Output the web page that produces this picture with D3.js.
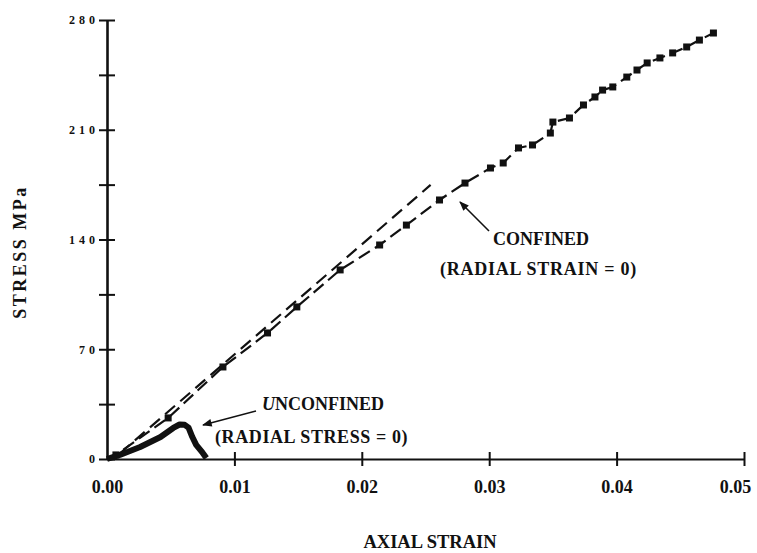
<!DOCTYPE html>
<html>
<head>
<meta charset="utf-8">
<script src="https://cdn.jsdelivr.net/npm/d3@7"></script>
<style>
  body { margin: 0; background: #fff; }
  text { font-family: "Liberation Serif", "DejaVu Serif", serif; font-weight: bold; fill: #111; }
</style>
</head>
<body>
<script>
// confined test: strain / stress pairs
const confinedStrain = [0.0000, 0.0007, 0.0048, 0.0091, 0.0126, 0.0149, 0.0183, 0.0214, 0.0235, 0.0261,
  0.0281, 0.0301, 0.0311, 0.0323, 0.0334, 0.0348, 0.0350, 0.0363, 0.0374, 0.0383,
  0.0389, 0.0397, 0.0408, 0.0416, 0.0424, 0.0434, 0.0444, 0.0455, 0.0465, 0.0476];
const confinedStress = [0, 2.6, 26.2, 58.7, 80.4, 97.0, 120.6, 136.5, 149.2, 165.2,
  176.0, 185.6, 188.8, 198.4, 200.3, 207.9, 214.9, 217.5, 225.8, 230.9,
  235.3, 237.3, 243.6, 248.1, 252.6, 255.8, 259.0, 262.8, 267.2, 271.7];

// unconfined test
const unconfStrain = [0.0000, 0.0010, 0.0026, 0.0042, 0.0052, 0.0057, 0.0061, 0.0064, 0.0067, 0.0070, 0.0075, 0.0078];
const unconfStress = [0, 2.6, 7.7, 14.0, 19.8, 22.0, 21.8, 20.0, 14.0, 9.0, 4.0, 0.6];

// upper dashed reference line
const refStrain = [0.0010, 0.0254];
const refStress = [3.5, 174.8];

const yTicks = [0, 35, 70, 105, 140, 175, 210, 245, 280];
const yLabels = [0, 70, 140, 210, 280];
const xTicks = [0, 0.01, 0.02, 0.03, 0.04, 0.05];

const W = 757, H = 553;
const svg = d3.select("body").append("svg").attr("width", W).attr("height", H);

const x = d3.scaleLinear().domain([0, 0.05]).range([107, 744]);
const y = d3.scaleLinear().domain([0, 280]).range([459, 20]);

// y axis
const yAxis = svg.append("g").attr("transform", "translate(107,0)")
  .call(d3.axisLeft(y).tickValues(yTicks).tickSize(0).tickSizeOuter(0).tickPadding(8)
    .tickFormat(d => yLabels.includes(d) ? d : ""));
yAxis.select(".domain").attr("stroke", "#111").attr("stroke-width", 2.6);
yAxis.selectAll(".tick line").attr("x1", -8).attr("x2", 8).attr("stroke", "#111").attr("stroke-width", 2);
yAxis.selectAll(".tick text").style("font-size", "12px").style("letter-spacing", "4px")
  .style("font-family", "Liberation Serif, serif").style("font-weight", "bold").attr("fill", "#111");

// x axis
const xAxis = svg.append("g").attr("transform", "translate(0,459)")
  .call(d3.axisBottom(x).tickValues(xTicks).tickSize(0).tickSizeOuter(0).tickPadding(21)
    .tickFormat(d3.format(".2f")));
xAxis.select(".domain").attr("stroke", "#111").attr("stroke-width", 2.2);
xAxis.selectAll(".tick line").attr("y1", d => d === 0 ? 0 : -7).attr("y2", d => d === 0 ? 0 : 7)
  .attr("stroke", "#111").attr("stroke-width", 2);
xAxis.selectAll(".tick text").style("font-size", "18px")
  .style("font-family", "Liberation Serif, serif").style("font-weight", "bold").attr("fill", "#111")
  .attr("dx", d => d === 0.05 ? -9 : 0);

// axis titles
svg.append("text").attr("x", 430).attr("y", 548).attr("text-anchor", "middle")
  .style("font-size", "18.5px").text("AXIAL STRAIN");
svg.append("text").attr("transform", "translate(26,252) rotate(-90)").attr("text-anchor", "middle")
  .style("font-size", "18px").style("letter-spacing", "2.5px").text("STRESS  MPa");

const line = d3.line().x(d => x(d[0])).y(d => y(d[1]));

// upper dashed line
svg.append("path").datum(d3.zip(refStrain, refStress)).attr("d", line)
  .attr("fill", "none").attr("stroke", "#111").attr("stroke-width", 2.2).attr("stroke-dasharray", "13,7");

// confined data: dashed line + square markers
const conf = d3.zip(confinedStrain, confinedStress);
svg.append("path").datum(conf).attr("d", line)
  .attr("fill", "none").attr("stroke", "#111").attr("stroke-width", 2.2).attr("stroke-dasharray", "13,6");
svg.selectAll("rect.pt").data(conf.slice(1)).enter().append("rect").attr("class", "pt")
  .attr("x", d => x(d[0]) - 3.5).attr("y", d => y(d[1]) - 3.5)
  .attr("width", 7).attr("height", 7).attr("fill", "#111");

// unconfined curve
svg.append("path").datum(d3.zip(unconfStrain, unconfStress)).attr("d", line)
  .attr("fill", "none").attr("stroke", "#111").attr("stroke-width", 6).attr("stroke-linejoin", "round");

// annotations
svg.append("defs").append("marker").attr("id", "ah").attr("viewBox", "0 0 10 10")
  .attr("refX", 9).attr("refY", 5).attr("markerWidth", 7).attr("markerHeight", 6).attr("orient", "auto")
  .append("path").attr("d", "M0,1 L10,5 L0,9 Z").attr("fill", "#111");

svg.append("line").attr("x1", 256).attr("y1", 411).attr("x2", 203).attr("y2", 425)
  .attr("stroke", "#111").attr("stroke-width", 1.6).attr("marker-end", "url(#ah)");
svg.append("line").attr("x1", 489).attr("y1", 231).attr("x2", 460).attr("y2", 202)
  .attr("stroke", "#111").attr("stroke-width", 1.6).attr("marker-end", "url(#ah)");

svg.append("text").attr("x", 262).attr("y", 410).style("font-size", "18px")
  .html('<tspan font-style="italic">U</tspan>NCONFINED');
svg.append("text").attr("x", 215).attr("y", 443).style("font-size", "18px").style("letter-spacing", "0.6px")
  .text("(RADIAL STRESS = 0)");
svg.append("text").attr("x", 493).attr("y", 245).style("font-size", "18px").text("CONFINED");
svg.append("text").attr("x", 440).attr("y", 275).style("font-size", "18px").style("letter-spacing", "0.75px")
  .text("(RADIAL STRAIN = 0)");
</script>
</body>
</html>
